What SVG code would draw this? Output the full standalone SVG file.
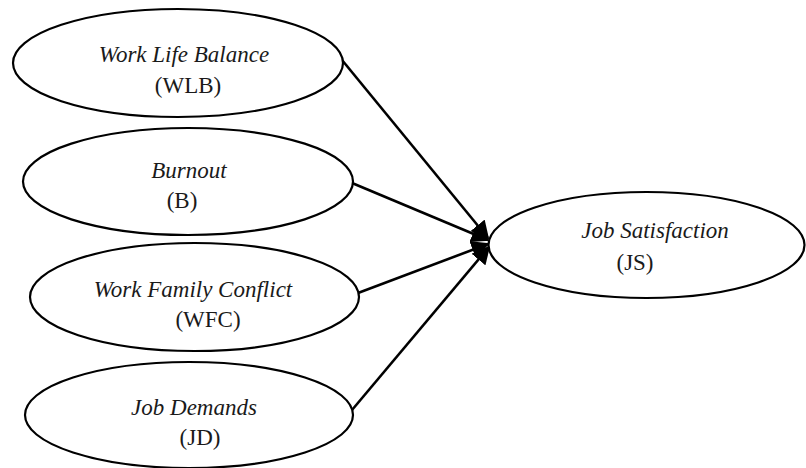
<svg xmlns="http://www.w3.org/2000/svg" width="806" height="468" viewBox="0 0 806 468">
<style>
.n{fill:#fff;stroke:#000;stroke-width:2.2}
.t{font-family:'Liberation Serif','DejaVu Serif',serif;font-size:23px;fill:#1a1a1a;text-anchor:middle}
.i{font-style:italic}
.e{stroke:#000;stroke-width:2.6;fill:none;marker-end:url(#ah)}
</style>
<defs>
<marker id="ah" viewBox="0 0 10 10" refX="9" refY="5" markerWidth="7" markerHeight="7" markerUnits="strokeWidth" orient="auto">
<path d="M0,0 L10,5 L0,10 Z" fill="#000"/>
</marker>
</defs>
<rect width="806" height="468" fill="#fff"/>
<g id="connectors">
<line class="e" x1="342" y1="60" x2="488" y2="238"/>
<line class="e" x1="352" y1="183" x2="488" y2="240"/>
<line class="e" x1="358" y1="293" x2="488" y2="244"/>
<line class="e" x1="352" y1="410" x2="489" y2="247"/>
</g>
<g id="WLB">
<ellipse class="n" cx="178" cy="63" rx="165" ry="54"/>
<text class="t i" x="184" y="62">Work Life Balance</text>
<text class="t" x="188" y="93">(WLB)</text>
</g>
<g id="B">
<ellipse class="n" cx="188" cy="181.5" rx="165" ry="53.5"/>
<text class="t i" x="189" y="178">Burnout</text>
<text class="t" x="182" y="208">(B)</text>
</g>
<g id="WFC">
<ellipse class="n" cx="194.5" cy="297" rx="164.5" ry="54"/>
<text class="t i" x="193" y="297">Work Family Conflict</text>
<text class="t" x="208" y="327">(WFC)</text>
</g>
<g id="JD">
<ellipse class="n" cx="189" cy="415" rx="164" ry="53"/>
<text class="t i" x="194" y="415">Job Demands</text>
<text class="t" x="200" y="445">(JD)</text>
</g>
<g id="JS">
<ellipse class="n" cx="646.5" cy="245" rx="158" ry="53"/>
<text class="t i" x="655" y="238">Job Satisfaction</text>
<text class="t" x="635" y="270">(JS)</text>
</g>
</svg>
